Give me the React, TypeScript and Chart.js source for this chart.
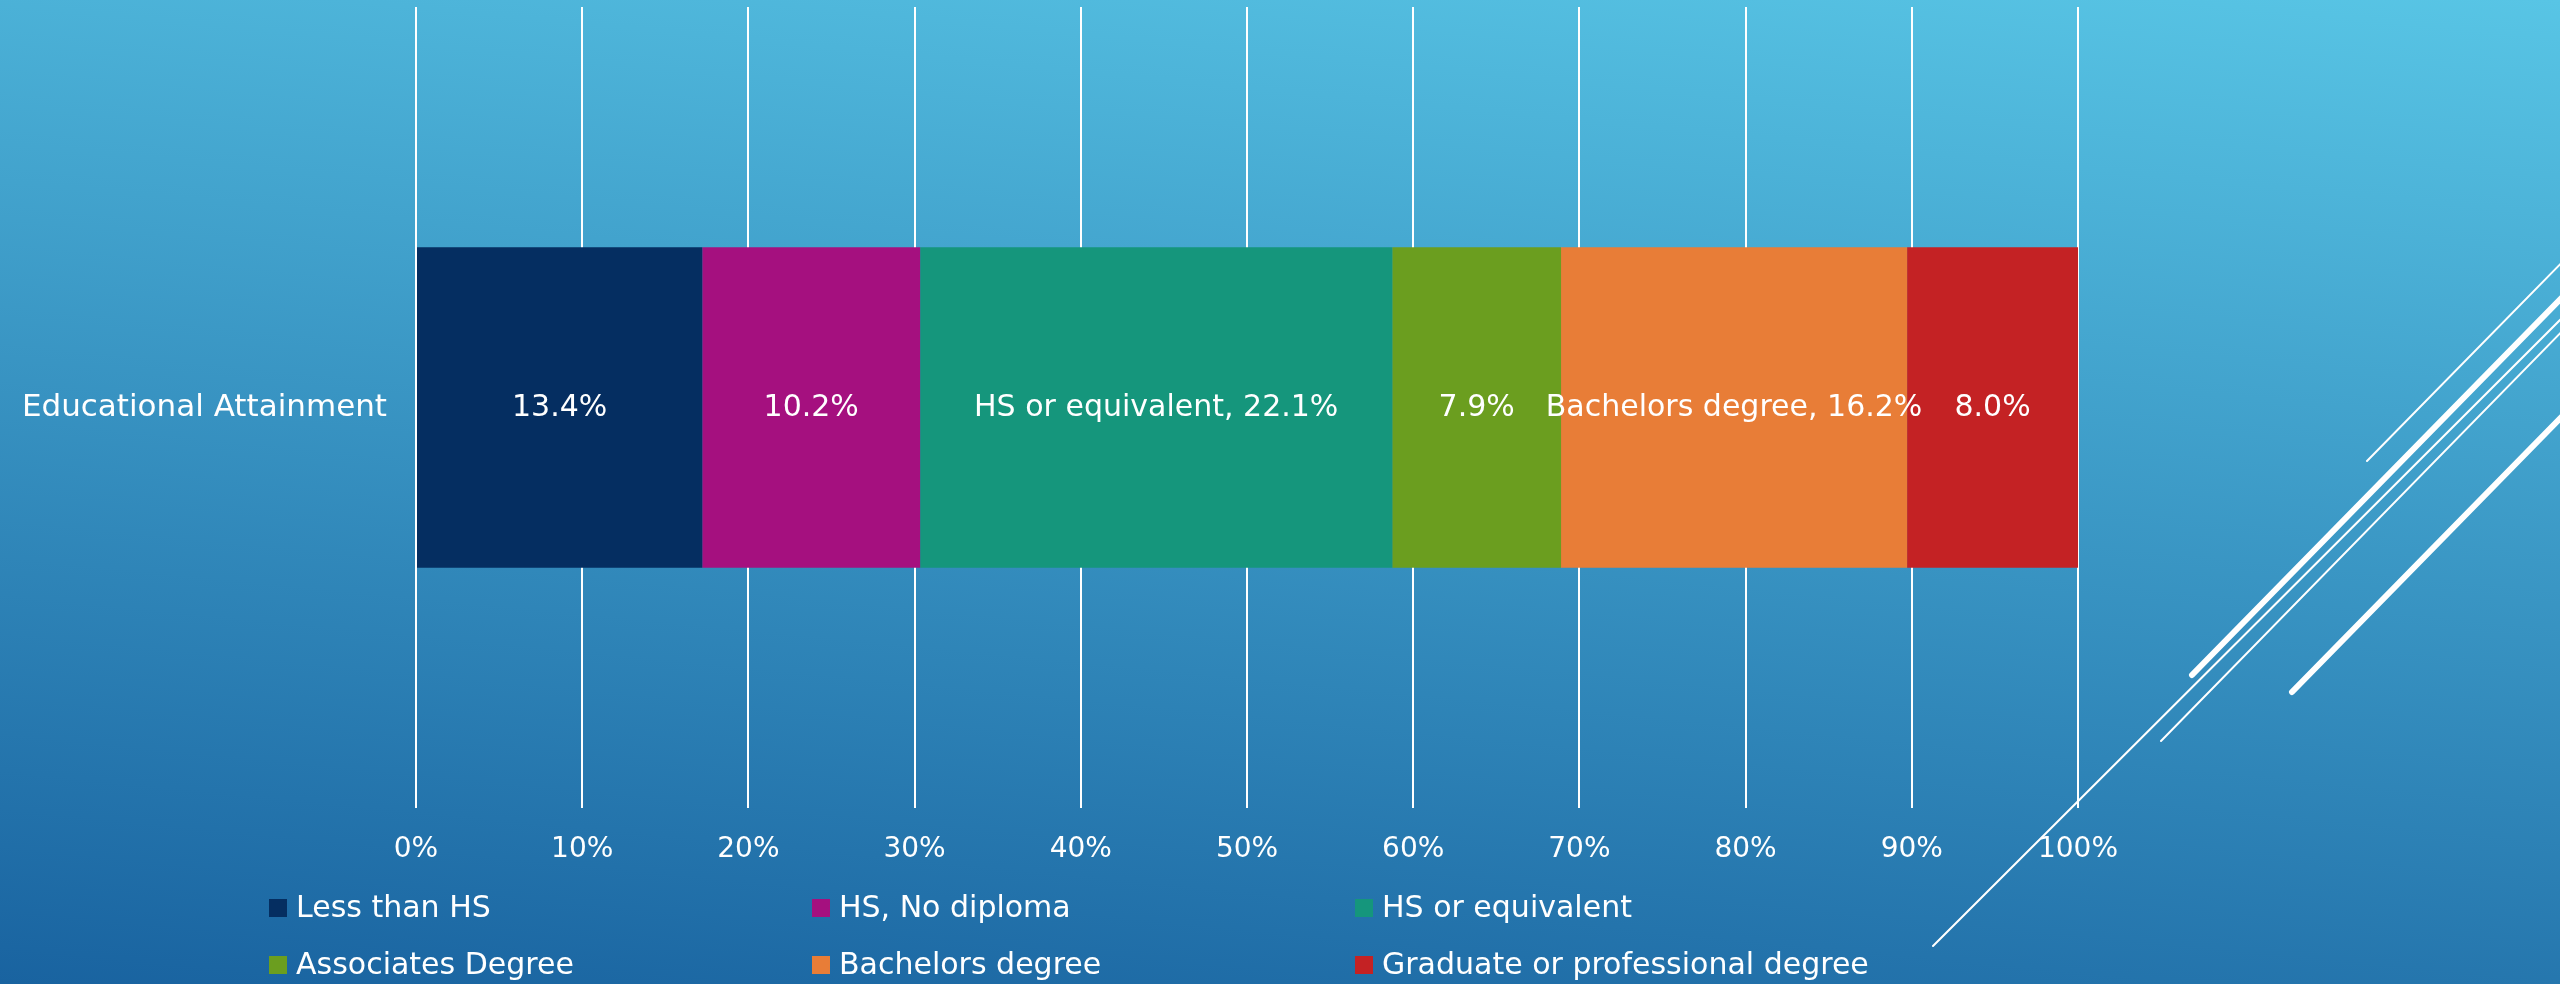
import React, { useEffect, useRef } from "react";
import { Chart, registerables } from "chart.js";

Chart.register(...registerables);

const categories = ["Educational Attainment"];
const seriesNames = [
  "Less than HS",
  "HS, No diploma",
  "HS or equivalent",
  "Associates Degree",
  "Bachelors degree",
  "Graduate or professional degree",
];
const seriesValues = [13.4, 10.2, 22.1, 7.9, 16.2, 8.0];
const seriesColors = ["#052e61", "#a5107f", "#15967c", "#6b9e1f", "#e87d37", "#c42224"];
const labelShowsName = [false, false, true, false, true, false];
const axisMin = 0;
const axisMax = 100;
const axisStep = 10;

const FONT_FAMILY = '"DejaVu Sans", "Noto Sans", sans-serif';
const FONT_WEIGHT = "normal";

const W = 2560;
const H = 984;

const backgroundPlugin = {
  id: "slideBackground",
  beforeDraw(chart: any) {
    const { ctx } = chart;
    ctx.save();
    const g = ctx.createLinearGradient(W, 0, W - 118, 1220);
    g.addColorStop(0, "#58c5e5");
    g.addColorStop(1, "#1963a0");
    ctx.fillStyle = g;
    ctx.fillRect(0, 0, W, H);
    ctx.restore();
  },
  afterDraw(chart: any) {
    const { ctx } = chart;
    const lines: [number, number, number, number, number][] = [
      [2367, 461, 2580, 244, 2],
      [2192, 675, 2580, 279, 6],
      [1933, 946, 2580, 300, 2],
      [2161, 741, 2580, 313, 2],
      [2292, 692, 2580, 398, 6],
    ];
    ctx.save();
    ctx.strokeStyle = "#ffffff";
    ctx.lineCap = "round";
    for (const [x1, y1, x2, y2, w] of lines) {
      ctx.lineWidth = w;
      ctx.beginPath();
      ctx.moveTo(x1, y1);
      ctx.lineTo(x2, y2);
      ctx.stroke();
    }
    ctx.restore();
  },
};

const dataLabelPlugin = {
  id: "segmentLabels",
  afterDatasetsDraw(chart: any) {
    const { ctx } = chart;
    ctx.save();
    ctx.fillStyle = "#ffffff";
    ctx.font = `${FONT_WEIGHT} 30px ${FONT_FAMILY}`;
    ctx.textAlign = "center";
    ctx.textBaseline = "middle";
    chart.data.datasets.forEach((ds: any, i: number) => {
      const meta = chart.getDatasetMeta(i);
      meta.data.forEach((el: any) => {
        const raw = seriesValues[i];
        const text = (labelShowsName[i] ? seriesNames[i] + ", " : "") + raw.toFixed(1) + "%";
        const cx = (el.x + el.base) / 2;
        ctx.fillText(text, cx, el.y + 1);
      });
    });
    ctx.restore();
  },
};

const legendPlugin = {
  id: "gridLegend",
  afterDraw(chart: any) {
    const { ctx } = chart;
    const startX = 269;
    const colPitch = 543;
    const rowY = [908, 965];
    const box = 18;
    ctx.save();
    ctx.font = `${FONT_WEIGHT} 30px ${FONT_FAMILY}`;
    ctx.textAlign = "left";
    ctx.textBaseline = "middle";
    seriesNames.forEach((name, i) => {
      const col = i % 3;
      const row = Math.floor(i / 3);
      const x = startX + col * colPitch;
      const y = rowY[row];
      ctx.fillStyle = seriesColors[i];
      ctx.fillRect(x, y - box / 2, box, box);
      ctx.fillStyle = "#ffffff";
      ctx.fillText(name, x + box + 9, y + 1);
    });
    ctx.restore();
  },
};

export default function App() {
  const ref = useRef<HTMLCanvasElement | null>(null);

  useEffect(() => {
    if (!ref.current) return;
    const total = seriesValues.reduce((a, b) => a + b, 0);
    const shares = seriesValues.map((v) => (v / total) * 100);
    const chart = new Chart(ref.current, {
      type: "bar",
      data: {
        labels: categories,
        datasets: seriesNames.map((name, i) => ({
          label: name,
          data: [shares[i]],
          backgroundColor: seriesColors[i],
          borderWidth: 0,
          categoryPercentage: 0.4,
          barPercentage: 1.0,
        })),
      },
      options: {
        indexAxis: "y",
        responsive: false,
        animation: false,
        layout: { padding: { left: 0, right: 482, top: 7, bottom: 0 } },
        plugins: {
          legend: { display: false },
          tooltip: { enabled: false },
          title: { display: false },
        },
        scales: {
          x: {
            stacked: true,
            min: axisMin,
            max: axisMax,
            ticks: {
              stepSize: axisStep,
              color: "#ffffff",
              font: { family: FONT_FAMILY, size: 28, weight: FONT_WEIGHT as any },
              padding: 25,
              callback: (v: any) => v + "%",
            },
            grid: { color: "#ffffff", lineWidth: 2, drawTicks: false },
            border: { display: false },
            afterFit: (scale: any) => {
              scale.height = 176;
              scale.paddingLeft = 0;
              scale.paddingRight = 0;
            },
          },
          y: {
            stacked: true,
            ticks: {
              color: "#ffffff",
              font: { family: FONT_FAMILY, size: 31, weight: FONT_WEIGHT as any },
              padding: 29,
            },
            grid: { display: false, drawTicks: false },
            border: { display: false },
            afterFit: (scale: any) => {
              scale.width = 416;
              scale.paddingTop = 0;
              scale.paddingBottom = 0;
            },
          },
        },
      },
      plugins: [backgroundPlugin, dataLabelPlugin, legendPlugin],
    });
    return () => chart.destroy();
  }, []);

  return (
    <div style={{ position: "fixed", left: 0, top: 0, width: W, height: H, overflow: "hidden" }}>
      <canvas ref={ref} width={W} height={H} style={{ display: "block", width: W, height: H }} />
    </div>
  );
}
